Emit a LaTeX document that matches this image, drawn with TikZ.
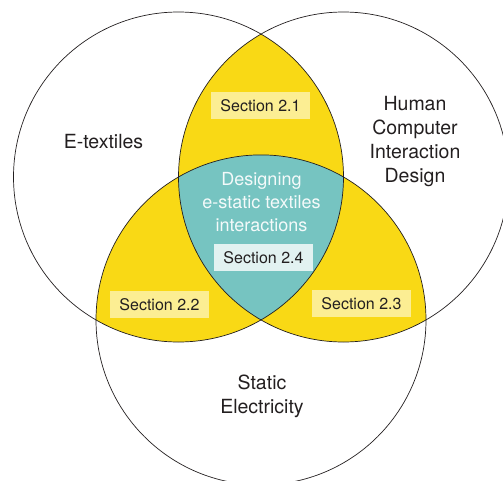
\documentclass[tikz,border=0pt]{standalone}
\usepackage{fontspec}
\setmainfont{TeX Gyre Heros}
\definecolor{vyellow}{HTML}{F9D915}
\definecolor{vteal}{HTML}{76C4C1}
\definecolor{boxyellow}{HTML}{FCEE93}
\definecolor{boxteal}{HTML}{E2F2F1}
\definecolor{ink}{HTML}{231F20}
\definecolor{lightink}{HTML}{F4FAFA}
\begin{document}
\begin{tikzpicture}[x=1pt,y=-1pt,
  outerlabel/.style={text=ink,align=center,font=\fontsize{19.5}{24}\selectfont,inner sep=0pt},
  innerlabel/.style={text=lightink,align=center,font=\fontsize{18}{23.3}\selectfont,inner sep=0pt},
  secbox/.style={fill=boxyellow,text=ink,font=\fontsize{16}{19}\selectfont,minimum width=99pt,minimum height=27pt,inner sep=0pt},
  secboxteal/.style={secbox,fill=boxteal},
  ring/.style={draw=ink,line width=0.7pt}]
\useasboundingbox (0,0) rectangle (503,480);
\clip (0,0) rectangle (503,480);
\def\R{165}
\coordinate (A) at (178.5,177);
\coordinate (B) at (343.5,177);
\coordinate (C) at (261,319.9);
% pairwise lenses
\begin{scope}
  \clip (A) circle (\R);
  \fill[vyellow] (B) circle (\R);
  \fill[vyellow] (C) circle (\R);
\end{scope}
\begin{scope}
  \clip (B) circle (\R);
  \fill[vyellow] (C) circle (\R);
\end{scope}
% triple region
\begin{scope}
  \clip (A) circle (\R);
  \clip (B) circle (\R);
  \fill[vteal] (C) circle (\R);
\end{scope}
\draw[ring] (A) circle (\R);
\draw[ring] (B) circle (\R);
\draw[ring] (C) circle (\R);
% labels
\node[outerlabel] (etex) at (103.5,141.5) {E-textiles};
\node[outerlabel] (hci) at (415,141.5) {Human\\Computer\\Interaction\\Design};
\node[outerlabel] (stat) at (262,396) {Static\\Electricity};
\node[innerlabel] (des) at (261.5,202) {Designing\\e-static textiles\\interactions};
\node[secbox] (s21) at (260.5,105.5) {Section 2.1};
\node[secbox] (s22) at (159.5,304.5) {Section 2.2};
\node[secbox] (s23) at (361.5,303.5) {Section 2.3};
\node[secboxteal] (s24) at (263.5,257.5) {Section 2.4};
\end{tikzpicture}
\end{document}
